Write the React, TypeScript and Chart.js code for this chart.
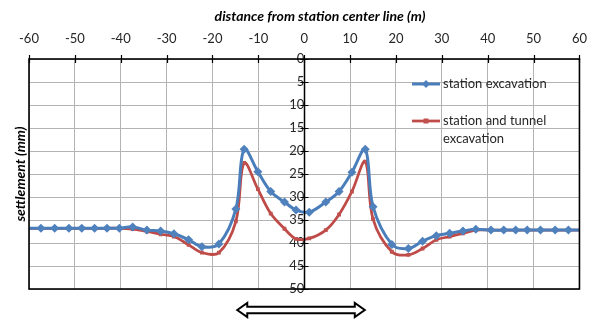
import React, { useEffect, useRef } from "react";
import { Chart, registerables } from "chart.js";

Chart.register(...registerables);

// distance from station center line (m)
const distances = [
  -60, -57.4, -54.4, -51.3, -48.5, -45.7, -43.0, -40.3, -37.4, -34.3, -31.3, -28.4, -25.2,
  -22.3, -18.6, -14.9, -13.1, -10.1, -7.3, -4.3, -1.8, 1.1, 4.7, 7.6, 10.4, 13.3, 15.0,
  19.1, 22.7, 25.8, 28.8, 31.7, 34.6, 37.4, 40.7, 43.5, 46.1, 48.6, 51.5, 54.7, 57.6, 60,
];

// settlement (mm) – station excavation
const stationExcavation = [
  36.8, 36.8, 36.8, 36.8, 36.8, 36.8, 36.8, 36.8, 36.5, 37.2, 37.4, 38.0, 39.3,
  40.8, 40.2, 32.6, 19.6, 24.5, 28.8, 31.1, 32.8, 33.3, 31.1, 28.8, 24.6, 19.6, 32.1,
  40.3, 41.2, 39.6, 38.4, 37.9, 37.4, 37.0, 37.2, 37.2, 37.2, 37.2, 37.2, 37.2, 37.2, 37.2,
];

// settlement (mm) – station and tunnel excavation
const stationTunnelExcavation = [
  36.8, 36.8, 36.8, 36.8, 36.8, 36.8, 36.8, 36.8, 37.0, 37.5, 38.1, 38.6, 40.4,
  42.1, 42.1, 35.3, 22.6, 28.3, 33.6, 36.9, 39.1, 39.0, 37.2, 33.8, 28.8, 22.3, 34.8,
  41.9, 42.6, 41.2, 39.3, 38.6, 37.9, 37.2, 37.2, 37.2, 37.2, 37.2, 37.2, 37.2, 37.2, 37.2,
];

const xTickValues = [-60, -50, -40, -30, -20, -10, 0, 10, 20, 30, 40, 50, 60];
const yTickValues = [0, 5, 10, 15, 20, 25, 30, 35, 40, 45, 50];

const seriesNames = ["station excavation", "station and tunnel excavation"];
const xTitle = "distance from station center line (m)";
const yTitle = "settlement (mm)";
// station extent marked by the double arrow (m)
const stationExtent = [-14.6, 13.2];

const BLUE = "#4A7EBB";
const BLUE_FILL = "#4F81BD";
const RED = "#BE4B48";
const RED_FILL = "#C0504D";
const FONT = "Lato, 'Open Sans', sans-serif";
const TEXT = "#262626";

const edgeRadius = (r: number) => distances.map((d) => (d === -60 || d === 60 ? 0 : r));

const decorPlugin = {
  id: "decor",
  afterDraw(chart: any) {
    const { ctx, chartArea: a } = chart;
    const xs = chart.scales.x;
    const ys = chart.scales.y;
    ctx.save();
    ctx.strokeStyle = "#000";
    ctx.lineWidth = 1.6;
    ctx.strokeRect(a.left, a.top, a.right - a.left, a.bottom - a.top);
    const x0 = Math.round(xs.getPixelForValue(0)) + 0.5;
    ctx.lineWidth = 1.5;
    ctx.beginPath();
    ctx.moveTo(x0, a.top);
    ctx.lineTo(x0, a.bottom);
    ctx.stroke();
    ctx.lineWidth = 1.2;
    ctx.beginPath();
    xTickValues.forEach((v) => {
      const px = Math.round(xs.getPixelForValue(v)) + 0.5;
      ctx.moveTo(px, a.top - 4);
      ctx.lineTo(px, a.top + 4);
    });
    yTickValues.forEach((v) => {
      const py = Math.round(ys.getPixelForValue(v)) + 0.5;
      ctx.moveTo(x0 - 4, py);
      ctx.lineTo(x0 + 4, py);
    });
    ctx.stroke();

    // titles
    ctx.fillStyle = "#000";
    ctx.font = `bold italic 14px ${FONT}`;
    ctx.textAlign = "center";
    ctx.textBaseline = "middle";
    ctx.fillText(xTitle, 320, 16);
    ctx.save();
    ctx.translate(20, (a.top + a.bottom) / 2);
    ctx.rotate(-Math.PI / 2);
    ctx.fillText(yTitle, 0, 0);
    ctx.restore();

    // legend
    ctx.font = `13px ${FONT}`;
    ctx.textAlign = "left";
    ctx.fillStyle = TEXT;
    ctx.lineWidth = 3;
    ctx.strokeStyle = BLUE;
    ctx.beginPath();
    ctx.moveTo(412, 84);
    ctx.lineTo(440, 84);
    ctx.stroke();
    ctx.fillStyle = BLUE_FILL;
    ctx.beginPath();
    ctx.moveTo(426, 80);
    ctx.lineTo(430, 84);
    ctx.lineTo(426, 88);
    ctx.lineTo(422, 84);
    ctx.closePath();
    ctx.fill();
    ctx.fillStyle = TEXT;
    ctx.fillText(seriesNames[0], 443, 84);

    ctx.lineWidth = 2.75;
    ctx.strokeStyle = RED;
    ctx.beginPath();
    ctx.moveTo(412, 121);
    ctx.lineTo(440, 121);
    ctx.stroke();
    ctx.fillStyle = RED_FILL;
    ctx.fillRect(423.5, 118.5, 5, 5);
    ctx.fillStyle = TEXT;
    ctx.fillText("station and tunnel", 443, 121);
    ctx.fillText("excavation", 443, 139);

    // double arrow
    const l = xs.getPixelForValue(stationExtent[0]);
    const r = xs.getPixelForValue(stationExtent[1]);
    const cy = 310;
    const hl = 10;
    ctx.beginPath();
    ctx.moveTo(l, cy);
    ctx.lineTo(l + hl, cy - 7);
    ctx.lineTo(l + hl, cy - 3.3);
    ctx.lineTo(r - hl, cy - 3.3);
    ctx.lineTo(r - hl, cy - 7);
    ctx.lineTo(r, cy);
    ctx.lineTo(r - hl, cy + 7);
    ctx.lineTo(r - hl, cy + 3.3);
    ctx.lineTo(l + hl, cy + 3.3);
    ctx.lineTo(l + hl, cy + 7);
    ctx.closePath();
    ctx.fillStyle = "#fff";
    ctx.fill();
    ctx.strokeStyle = "#000";
    ctx.lineWidth = 2;
    ctx.lineJoin = "miter";
    ctx.stroke();
    ctx.restore();
  },
};

export default function App() {
  const ref = useRef<HTMLCanvasElement | null>(null);
  useEffect(() => {
    if (!ref.current) return;
    const chart = new Chart(ref.current, {
      type: "line",
      data: {
        datasets: [
          {
            label: seriesNames[0],
            data: distances.map((d, i) => ({ x: d, y: stationExcavation[i] })),
            borderColor: BLUE,
            backgroundColor: BLUE_FILL,
            borderWidth: 3,
            pointStyle: "rectRot",
            pointRadius: edgeRadius(4.5),
            pointBorderWidth: 0,
            tension: 0.35,
          },
          {
            label: seriesNames[1],
            data: distances.map((d, i) => ({ x: d, y: stationTunnelExcavation[i] })),
            borderColor: RED,
            backgroundColor: RED_FILL,
            borderWidth: 2.75,
            pointStyle: "rect",
            pointRadius: edgeRadius(2.7),
            pointBorderWidth: 0,
            tension: 0.35,
          },
        ],
      },
      options: {
        animation: false,
        responsive: false,
        maintainAspectRatio: false,
        layout: { padding: { left: 29, right: 14, bottom: 31, top: 0 } },
        plugins: { legend: { display: false }, tooltip: { enabled: false } },
        scales: {
          x: {
            type: "linear",
            position: "top",
            min: -60,
            max: 60,
            afterBuildTicks: (s: any) => {
              s.ticks = xTickValues.map((v) => ({ value: v }));
            },
            afterFit: (s: any) => {
              s.height = 59;
            },
            grid: { color: "#B3B3B3", lineWidth: 1, drawTicks: false },
            border: { display: false },
            ticks: { padding: 12, color: TEXT, font: { family: FONT, size: 13 }, maxRotation: 0 },
          },
          y: {
            type: "linear",
            position: { x: 0 },
            reverse: true,
            min: 0,
            max: 50,
            afterBuildTicks: (s: any) => {
              s.ticks = yTickValues.map((v) => ({ value: v }));
            },
            grid: { color: "#B3B3B3", lineWidth: 1, drawTicks: false },
            border: { display: false },
            ticks: { padding: 10, color: TEXT, font: { family: FONT, size: 13 } },
          },
        },
      },
      plugins: [decorPlugin],
    });
    return () => chart.destroy();
  }, []);
  return (
    <div style={{ position: "absolute", left: 0, top: 0, width: 599, height: 320, background: "#fff" }}>
      <canvas ref={ref} width={599} height={320} style={{ display: "block" }} />
    </div>
  );
}
